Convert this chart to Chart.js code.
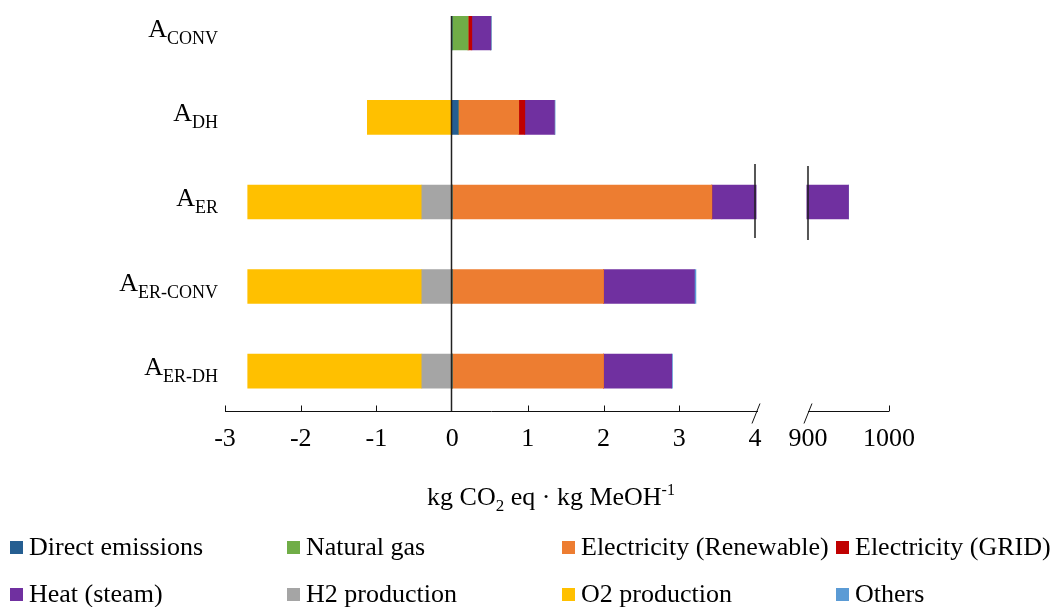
<!DOCTYPE html>
<html>
<head>
<meta charset="utf-8">
<script src="https://cdn.jsdelivr.net/npm/chart.js@4.4.0/dist/chart.umd.min.js"></script>
<style>
    html, body { margin: 0; padding: 0; background: #fff; }
    #wrap { position: relative; width: 1052px; height: 607px; }
    #emissionsChart { position: absolute; left: 0; top: 0; }
    .legend-item { position: absolute; font: 26px "Liberation Serif", "Times New Roman", serif; color: #000; white-space: nowrap; line-height: 26px; }
    .legend-box { position: absolute; width: 13px; height: 13px; }
</style>
</head>
<body>
<div id="wrap">
    <canvas id="emissionsChart" width="1052" height="607"></canvas>
    <div id="legend"></div>
</div>
<script>
// categories are the subscripts of "A"
var categories = ['CONV', 'DH', 'ER', 'ER-CONV', 'ER-DH'];

var directEmissions = [0, 0.08, 0, 0, 0];
var naturalGas = [0.21, 0, 0, 0, 0];
var electricityRenewable = [0, 0.80, 3.43, 2.00, 2.00];
var electricityGrid = [0.05, 0.08, 0, 0, 0];
var heatSteam = [0.25, 0.39, 946.6, 1.20, 0.90];
var h2Production = [0, 0, -0.40, -0.40, -0.40];
var o2Production = [0, -1.12, -2.30, -2.30, -2.30];
var others = [0.01, 0.01, 0, 0.02, 0.01];

var tickValues = [-3, -2, -1, 0, 1, 2, 3, 4, 900, 1000];
var breakLow = 4;
var breakHigh = 900;

var series = [
    { label: 'Direct emissions', data: directEmissions, color: '#255E91' },
    { label: 'Natural gas', data: naturalGas, color: '#70AD47' },
    { label: 'Electricity (Renewable)', data: electricityRenewable, color: '#ED7D31' },
    { label: 'Electricity (GRID)', data: electricityGrid, color: '#C00000' },
    { label: 'Heat (steam)', data: heatSteam, color: '#7030A0' },
    { label: 'H2 production', data: h2Production, color: '#A5A5A5' },
    { label: 'O2 production', data: o2Production, color: '#FFC000' },
    { label: 'Others', data: others, color: '#5B9BD5' }
];

var serif = '"Liberation Serif", "Times New Roman", serif';

// broken axis: -3..4 is linear, then a gap, then 900..1000 squeezed in
function toDisplay(v) {
    if (v <= breakLow) return v;
    if (v >= breakHigh) return breakLow + 0.7 + (v - breakHigh) / 100 * 1.07;
    return breakLow + (v - breakLow) / (breakHigh - breakLow) * 0.7;
}

class BrokenScale extends Chart.LinearScale {
    buildTicks() {
        this.start = this.min;
        this.end = this.max;
        return tickValues.map(function (v) { return { value: v }; });
    }
    getPixelForValue(value) {
        if (value === null || value === undefined) return NaN;
        var lo = toDisplay(this.min), hi = toDisplay(this.max);
        return this.getPixelForDecimal((toDisplay(value) - lo) / (hi - lo));
    }
}
BrokenScale.id = 'broken';
BrokenScale.defaults = Chart.LinearScale.defaults;
Chart.register(BrokenScale);

var decorations = {
    id: 'decorations',
    afterDatasetsDraw: function (chart) {
        var ctx = chart.ctx;
        var xs = chart.scales.x, ys = chart.scales.y;
        var area = chart.chartArea;
        var axisY = Math.round(area.bottom) + 0.5;
        var gapL = xs.getPixelForValue(breakLow);
        var gapR = xs.getPixelForValue(breakHigh);
        ctx.save();

        // white out the skipped range of the bar
        ctx.fillStyle = '#fff';
        ctx.fillRect(gapL + 1.5, area.top - 5, gapR - gapL - 3, area.bottom - area.top);

        // break marks through the long bar
        var yc = ys.getPixelForValue(2);
        ctx.strokeStyle = 'rgba(30,30,30,0.75)';
        ctx.lineWidth = 2;
        ctx.beginPath();
        ctx.moveTo(gapL, yc - 38); ctx.lineTo(gapL, yc + 36);
        ctx.moveTo(gapR, yc - 36); ctx.lineTo(gapR, yc + 38);
        ctx.stroke();

        // zero line
        var x0 = Math.round(xs.getPixelForValue(0)) - 0.5;
        ctx.strokeStyle = '#222';
        ctx.lineWidth = 1.5;
        ctx.beginPath();
        ctx.moveTo(x0, area.top);
        ctx.lineTo(x0, axisY);
        ctx.stroke();

        // axis line in two parts with tick marks pointing up
        ctx.strokeStyle = '#111';
        ctx.lineWidth = 1;
        ctx.beginPath();
        ctx.moveTo(xs.getPixelForValue(-3), axisY);
        ctx.lineTo(gapL + 3, axisY);
        ctx.moveTo(gapR, axisY);
        ctx.lineTo(xs.getPixelForValue(1000), axisY);
        tickValues.forEach(function (v) {
            if (v === 0 || v === breakLow || v === breakHigh) return;
            var px = Math.round(xs.getPixelForValue(v)) + 0.5;
            ctx.moveTo(px, axisY);
            ctx.lineTo(px, axisY - 6);
        });
        [gapL + 1, gapR].forEach(function (px) {
            ctx.moveTo(px + 4, axisY - 8);
            ctx.lineTo(px - 4, axisY + 12);
        });
        ctx.stroke();

        // category labels: A with subscript
        ctx.fillStyle = '#000';
        ctx.textBaseline = 'alphabetic';
        ctx.textAlign = 'left';
        categories.forEach(function (sub, i) {
            var y = ys.getPixelForValue(i);
            ctx.font = '26px ' + serif;
            var wA = ctx.measureText('A').width;
            ctx.font = '18px ' + serif;
            var wS = ctx.measureText(sub).width;
            var left = 218 - wA - wS;
            ctx.font = '26px ' + serif;
            ctx.fillText('A', left, y + 4);
            ctx.font = '18px ' + serif;
            ctx.fillText(sub, left + wA, y + 11);
        });

        // axis title with sub/superscript
        var parts = [
            { t: 'kg CO', size: 26, dy: 0 },
            { t: '2', size: 17, dy: 6 },
            { t: ' eq \u00b7 kg MeOH', size: 26, dy: 0 },
            { t: '-1', size: 16, dy: -10 }
        ];
        var total = 0;
        parts.forEach(function (p) {
            ctx.font = p.size + 'px ' + serif;
            p.w = ctx.measureText(p.t).width;
            total += p.w;
        });
        var tx = 551 - total / 2;
        parts.forEach(function (p) {
            ctx.font = p.size + 'px ' + serif;
            ctx.fillText(p.t, tx, 505 + p.dy);
            tx += p.w;
        });
        ctx.restore();
    }
};

var emissionsChart = new Chart(document.getElementById('emissionsChart'), {
    type: 'bar',
    data: {
        datasets: series.map(function (s) {
            return {
                label: s.label,
                data: s.data.map(function (v, i) { return { x: v, y: i }; }),
                backgroundColor: s.color,
                borderWidth: 0,
                barThickness: 34
            };
        })
    },
    options: {
        indexAxis: 'y',
        responsive: false,
        animation: false,
        layout: { padding: { left: 225, right: 163, top: 16, bottom: 139 } },
        plugins: { legend: { display: false }, tooltip: { enabled: false } },
        scales: {
            x: {
                type: 'broken',
                stacked: true,
                min: -3,
                max: 1000,
                grid: { display: false, drawTicks: false },
                border: { display: false },
                ticks: {
                    autoSkip: false,
                    maxRotation: 0,
                    padding: 13,
                    color: '#000',
                    font: { family: serif, size: 26 },
                    callback: function (v) { return String(v); }
                }
            },
            y: {
                type: 'linear',
                stacked: true,
                reverse: true,
                offset: false,
                bounds: 'data',
                min: -0.2,
                max: 4.47,
                display: false
            }
        }
    },
    plugins: [decorations]
});

// legend in two rows of four
var legendCols = [10, 287, 562, 836];
var legendRows = [548, 595];
var legend = document.getElementById('legend');
series.forEach(function (s, i) {
    var left = legendCols[i % 4];
    var cy = legendRows[Math.floor(i / 4)];
    var box = document.createElement('div');
    box.className = 'legend-box';
    box.style.left = left + 'px';
    box.style.top = (cy - 7) + 'px';
    box.style.background = s.color;
    legend.appendChild(box);
    var item = document.createElement('div');
    item.className = 'legend-item';
    item.style.left = (left + 19) + 'px';
    item.style.top = (cy - 14) + 'px';
    item.textContent = s.label;
    legend.appendChild(item);
});
</script>
</body>
</html>
